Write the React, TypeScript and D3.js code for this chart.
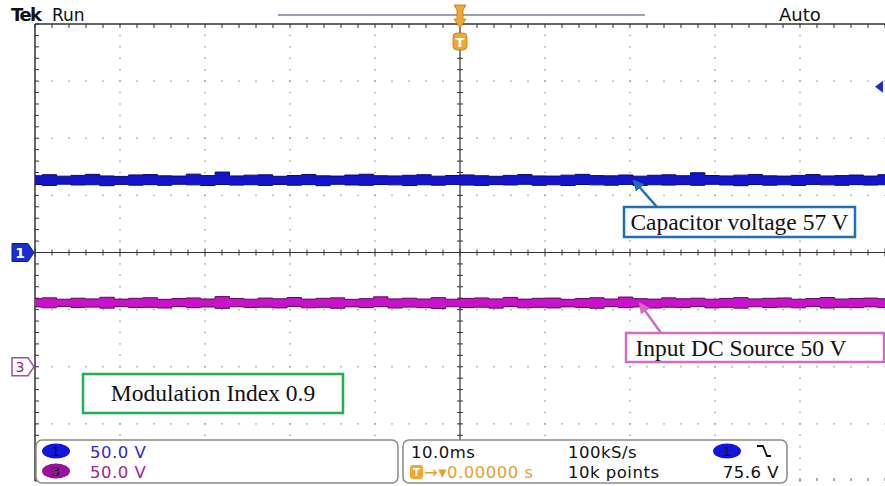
import * as d3 from "d3";

// Channel 1 (capacitor voltage) envelope, volts
const ch1Upper = [67.2, 68.1, 66.8, 67.5, 68.4, 67.0, 66.6, 67.9, 68.2, 67.1, 66.9, 68.6, 67.3, 70.4, 67.0, 67.7, 68.0, 66.7, 67.4, 68.3, 67.1, 66.9, 67.8, 68.5, 67.2, 67.0, 67.6, 68.1, 66.8, 67.4, 67.9, 67.2, 66.7, 67.5, 68.2, 67.0, 66.9, 67.7, 68.4, 67.3, 67.1, 67.8, 66.8, 67.6, 68.0, 67.2, 69.8, 67.4, 67.0, 67.7, 68.3, 67.1, 66.9, 67.5, 68.2, 67.0, 67.3, 67.8, 66.9, 68.1];
const ch1Lower = [59.5, 58.7, 59.8, 59.1, 59.3, 58.5, 59.6, 58.9, 59.4, 58.8, 59.7, 59.2, 58.6, 59.5, 59.0, 59.3, 58.7, 59.6, 58.9, 59.4, 58.5, 59.7, 59.1, 58.8, 59.5, 59.2, 58.6, 59.3, 58.9, 59.6, 59.0, 58.7, 59.4, 59.1, 59.7, 58.8, 59.3, 58.6, 59.5, 59.2, 58.9, 59.6, 58.7, 59.3, 59.0, 59.4, 58.8, 59.7, 59.1, 58.5, 59.5, 58.9, 59.3, 58.7, 59.6, 59.2, 58.8, 59.4, 59.0, 59.3];
// Channel 3 (input DC source) envelope, volts
const ch3Upper = [59.6, 60.3, 59.1, 60.0, 59.4, 60.8, 59.2, 59.9, 60.4, 59.0, 59.7, 60.2, 59.3, 61.4, 59.8, 59.1, 60.1, 59.5, 60.6, 59.2, 59.9, 60.3, 59.0, 59.6, 61.2, 59.4, 60.0, 59.3, 60.5, 59.1, 59.8, 60.2, 59.4, 60.7, 59.2, 59.9, 60.1, 59.0, 59.7, 60.4, 59.3, 61.0, 59.6, 59.2, 60.3, 59.5, 60.0, 59.1, 59.8, 60.5, 59.4, 59.9, 60.2, 59.1, 59.7, 60.6, 59.3, 59.8, 60.1, 59.5];
const ch3Lower = [52.4, 51.6, 52.8, 51.9, 52.2, 51.3, 52.6, 51.8, 52.0, 51.4, 52.7, 51.7, 52.3, 51.1, 52.5, 51.9, 52.1, 51.5, 52.8, 51.6, 52.0, 51.2, 52.4, 51.8, 52.6, 51.4, 52.2, 51.7, 50.9, 52.5, 51.8, 52.1, 51.3, 52.7, 51.6, 52.0, 51.5, 52.4, 51.9, 51.2, 52.6, 51.7, 52.3, 51.4, 52.1, 51.8, 52.7, 51.5, 52.0, 51.3, 52.5, 51.9, 52.2, 51.6, 52.8, 51.4, 52.0, 51.7, 52.4, 51.8];

const timeMs = d3.range(0, 60).map((i) => -50 + (i * 100) / 59);

const voltsPerDiv = [50, 50];
const groundDiv = [0, -2]; // ch1, ch3 reference positions
const triggerLevelDiv = 2.9;

const W = 885;
const H = 486;
const plot = { left: 35, right: 885, top: 24, bottom: 481 };

const x = d3.scaleLinear().domain([-50, 50]).range([plot.left, plot.right]);
const y = d3.scaleLinear().domain([-4, 4]).range([plot.bottom, plot.top]);
const divW = x(10) - x(0);
const divH = y(0) - y(1);

const sans = "'DejaVu Sans', Verdana, sans-serif";
const serif = "'Liberation Serif', 'Times New Roman', serif";

type Pt = { t: number; hi: number; lo: number };

function traceArea(upper: number[], lower: number[], ch: number) {
  const toDiv = (v: number) => v / voltsPerDiv[ch] + groundDiv[ch];
  const pts: Pt[] = timeMs.map((t, i) => ({ t, hi: toDiv(upper[i]), lo: toDiv(lower[i]) }));
  const area = d3
    .area<Pt>()
    .curve(d3.curveStep)
    .x((d) => x(d.t))
    .y0((d) => y(d.lo))
    .y1((d) => y(d.hi));
  const hiLine = d3
    .line<Pt>()
    .curve(d3.curveStep)
    .x((d) => x(d.t))
    .y((d) => y(d.hi));
  const loLine = d3
    .line<Pt>()
    .curve(d3.curveStep)
    .x((d) => x(d.t))
    .y((d) => y(d.lo));
  return { area: area(pts)!, hi: hiLine(pts)!, lo: loLine(pts)! };
}

export default function App() {
  const blue = traceArea(ch1Upper, ch1Lower, 0);
  const mag = traceArea(ch3Upper, ch3Lower, 1);

  // dotted graticule
  const dots: JSX.Element[] = [];
  for (let i = 1; i < 10; i++) {
    if (i === 5) continue;
    for (let k = 0; k <= 40; k++) {
      dots.push(<rect key={`v${i}-${k}`} x={plot.left + i * divW - 0.7} y={plot.top + (k * divH) / 5 - 0.7} width={1.4} height={1.4} fill="#9a9a9a" />);
    }
  }
  for (let j = -3; j <= 3; j++) {
    if (j === 0) continue;
    for (let k = 0; k <= 50; k++) {
      dots.push(<rect key={`h${j}-${k}`} x={plot.left + (k * divW) / 5 - 0.7} y={y(j) - 0.7} width={1.4} height={1.4} fill="#9a9a9a" />);
    }
  }

  // ticks on center axes & borders
  const ticks: JSX.Element[] = [];
  for (let k = 0; k <= 50; k++) {
    const tx = plot.left + (k * divW) / 5;
    const major = k % 5 === 0;
    ticks.push(<line key={`ct${k}`} x1={tx} x2={tx} y1={y(0) - (major ? 4 : 3)} y2={y(0) + (major ? 4 : 3)} stroke="#333" strokeWidth={1} />);
    ticks.push(<line key={`tt${k}`} x1={tx} x2={tx} y1={plot.top} y2={plot.top + 4} stroke="#333" strokeWidth={1} />);
    ticks.push(<line key={`bt${k}`} x1={tx} x2={tx} y1={plot.bottom} y2={plot.bottom - 3} stroke="#555" strokeWidth={1} />);
  }
  for (let k = 0; k <= 40; k++) {
    const ty = plot.top + (k * divH) / 5;
    ticks.push(<line key={`cv${k}`} x1={x(0) - 3} x2={x(0) + 3} y1={ty} y2={ty} stroke="#333" strokeWidth={1} />);
    ticks.push(<line key={`lt${k}`} x1={plot.left} x2={plot.left + 4} y1={ty} y2={ty} stroke="#333" strokeWidth={1} />);
  }

  const capTip = { x: x(20.5), y: y(61.5 / voltsPerDiv[0]) - 1 };
  const dcTip = { x: x(21.2), y: y(55 / voltsPerDiv[1] + groundDiv[1]) };
  const trigY = y(triggerLevelDiv);
  const g1 = y(groundDiv[0]);
  const g3 = y(groundDiv[1]);

  return (
    <svg width={W} height={H} style={{ position: "absolute", left: 0, top: 0, background: "#fff" }}>
      <defs>
        <marker id="arrBlue" viewBox="0 0 10 10" refX="8" refY="5" markerWidth="4.5" markerHeight="4.5" orient="auto">
          <path d="M0,0 L10,5 L0,10 z" fill="#1f6fb8" />
        </marker>
        <marker id="arrPink" viewBox="0 0 10 10" refX="8" refY="5" markerWidth="4.5" markerHeight="4.5" orient="auto">
          <path d="M0,0 L10,5 L0,10 z" fill="#d06cc4" />
        </marker>
      </defs>

      {/* header */}
      <text x={11} y={21} fontFamily={sans} fontSize={18} fontWeight="bold" letterSpacing={-1.5} fill="#111">Tek</text>
      <text x={52} y={21} fontFamily={sans} fontSize={17} fill="#111">Run</text>
      <text x={779} y={21} fontFamily={sans} fontSize={18} fill="#111">Auto</text>
      <line x1={278} x2={645} y1={15} y2={15} stroke="#7a7f9a" strokeWidth={1.5} />

      {dots}
      <line x1={plot.left} x2={plot.right} y1={plot.top} y2={plot.top} stroke="#333" strokeWidth={1.5} />
      <line x1={plot.left} x2={plot.left} y1={plot.top} y2={plot.bottom} stroke="#333" strokeWidth={1.5} />
      <line x1={plot.left} x2={plot.right} y1={y(0)} y2={y(0)} stroke="#333" strokeWidth={1.2} />
      <line x1={x(0)} x2={x(0)} y1={plot.top} y2={plot.bottom} stroke="#333" strokeWidth={1.2} />
      {ticks}

      {/* traces */}
      <path d={blue.area} fill="#1414c8" />
      <path d={blue.hi} fill="none" stroke="#0a0a70" strokeWidth={1} />
      <path d={blue.lo} fill="none" stroke="#0a0a70" strokeWidth={1} />
      <path d={mag.area} fill="#c814c8" />
      <path d={mag.hi} fill="none" stroke="#5a0a5a" strokeWidth={1} />
      <path d={mag.lo} fill="none" stroke="#5a0a5a" strokeWidth={1} />

      {/* trigger markers */}
      <g fill="#f0a830" stroke="#c07810" strokeWidth={0.8}>
        <path d={`M${x(0) - 6},5 L${x(0) + 6},5 L${x(0) + 3},10 L${x(0) + 3},19 L${x(0) + 6},19 L${x(0)},28 L${x(0) - 6},19 L${x(0) - 3},19 L${x(0) - 3},10 z`} />
        <rect x={x(0) - 7} y={33} width={14} height={17} rx={4} />
      </g>
      <text x={x(0)} y={47} textAnchor="middle" fontFamily={sans} fontSize={13} fontWeight="bold" fill="#fff">T</text>
      <path d={`M${plot.right - 10},${trigY} L${plot.right - 2},${trigY - 6} L${plot.right - 2},${trigY + 6} z`} fill="#1a2fd0" />

      {/* channel ground markers */}
      <path d={`M12,${g1 - 9} L28,${g1 - 9} L34,${g1} L28,${g1 + 9} L12,${g1 + 9} z`} fill="#1a2fd0" stroke="#0c1a90" strokeWidth={1} />
      <text x={20} y={g1 + 5} textAnchor="middle" fontFamily={sans} fontSize={14} fontWeight="bold" fill="#fff">1</text>
      <path d={`M12,${g3 - 9} L28,${g3 - 9} L34,${g3} L28,${g3 + 9} L12,${g3 + 9} z`} fill="#fff" stroke="#a050a0" strokeWidth={1.5} />
      <text x={20} y={g3 + 5} textAnchor="middle" fontFamily={sans} fontSize={14} fill="#8a2a8a">3</text>

      {/* annotations */}
      <line x1={657} y1={207} x2={capTip.x} y2={capTip.y} stroke="#1f6fb8" strokeWidth={2.5} markerEnd="url(#arrBlue)" />
      <rect x={624} y={207} width={231} height={30} fill="#fff" stroke="#1f6fb8" strokeWidth={2.5} />
      <text x={739.5} y={230} textAnchor="middle" fontFamily={serif} fontSize={23.5} fill="#111">Capacitor voltage 57 V</text>

      <line x1={661} y1={333} x2={dcTip.x} y2={dcTip.y} stroke="#d06cc4" strokeWidth={2.5} markerEnd="url(#arrPink)" />
      <rect x={626} y={333} width={258} height={29} fill="#fff" stroke="#d06cc4" strokeWidth={2.5} />
      <text x={741} y={356} textAnchor="middle" fontFamily={serif} fontSize={23.5} fill="#111">Input DC Source 50 V</text>

      <rect x={83} y={374} width={260} height={39} fill="#fff" stroke="#1fb050" strokeWidth={2.5} />
      <text x={213} y={401} textAnchor="middle" fontFamily={serif} fontSize={23.5} fill="#111">Modulation Index 0.9</text>

      {/* status boxes */}
      <rect x={36} y={440} width={362} height={43} rx={6} fill="#fff" stroke="#8a8a8a" strokeWidth={1.5} />
      <ellipse cx={56} cy={451} rx={14} ry={7.5} fill="#1414e0" />
      <text x={56} y={456} textAnchor="middle" fontFamily={sans} fontSize={13} fill="#111">1</text>
      <text x={90} y={458} fontFamily={sans} fontSize={16.5} letterSpacing={0.5} fill="#2a2ad0">{`${voltsPerDiv[0].toFixed(1)} V`}</text>
      <ellipse cx={56} cy={471} rx={14} ry={7.5} fill="#9a109a" />
      <text x={56} y={476} textAnchor="middle" fontFamily={sans} fontSize={13} fill="#111">3</text>
      <text x={90} y={478} fontFamily={sans} fontSize={16.5} letterSpacing={0.5} fill="#9a1f9a">{`${voltsPerDiv[1].toFixed(1)} V`}</text>

      <rect x={403} y={440} width={384} height={43} rx={6} fill="#fff" stroke="#8a8a8a" strokeWidth={1.5} />
      <text x={411} y={458} fontFamily={sans} fontSize={16.5} letterSpacing={0.5} fill="#111">10.0ms</text>
      <text x={568} y={458} fontFamily={sans} fontSize={16.5} letterSpacing={0.5} fill="#111">100kS/s</text>
      <ellipse cx={727} cy={451} rx={14} ry={7.5} fill="#1414e0" />
      <text x={727} y={456} textAnchor="middle" fontFamily={sans} fontSize={13} fill="#111">1</text>
      <path d="M757,446 L763,446 L767,456 L771,456" fill="none" stroke="#111" strokeWidth={1.8} />
      <rect x={410} y={465} width={13} height={14} rx={3} fill="#f0a830" />
      <text x={416.5} y={476} textAnchor="middle" fontFamily={sans} fontSize={10} fontWeight="bold" fill="#fff">T</text>
      <text x={424} y={478} fontFamily={sans} fontSize={16.5} letterSpacing={0.5} fill="#e8a030">→▾0.00000 s</text>
      <text x={568} y={478} fontFamily={sans} fontSize={16.5} letterSpacing={0.5} fill="#111">10k points</text>
      <text x={779} y={478} textAnchor="end" fontFamily={sans} fontSize={16.5} letterSpacing={0.5} fill="#111">75.6 V</text>
    </svg>
  );
}
